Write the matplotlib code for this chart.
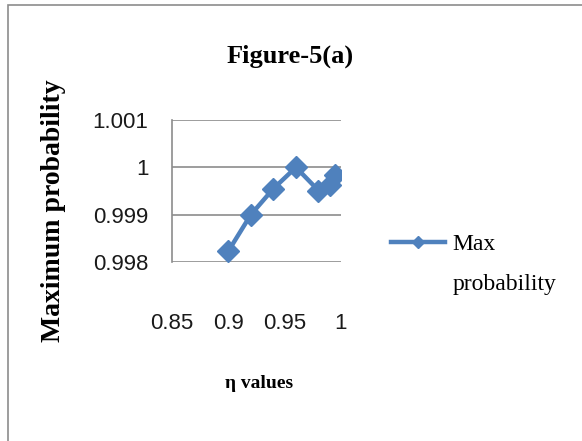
import matplotlib.pyplot as plt
from matplotlib.patches import Rectangle

# data
eta = [0.90, 0.92, 0.94, 0.96, 0.98, 0.99, 0.995]
max_prob = [0.99823, 0.99900, 0.99955, 1.00000, 0.99951, 0.99963, 0.99983]

y_ticks = [0.998, 0.999, 1.0, 1.001]
y_labels = ['0.998', '0.999', '1', '1.001']
x_ticks = [0.85, 0.90, 0.95, 1.0]
x_labels = ['0.85', '0.9', '0.95', '1']

blue = '#4F81BD'
serif = 'Liberation Serif'
sans = 'Liberation Sans'

fig = plt.figure(figsize=(5.82, 4.41), dpi=100)
fig.patches.append(Rectangle((8 / 582, -0.05), 1.1, 1 - 5 / 441 + 0.05,
                             transform=fig.transFigure, fill=False,
                             edgecolor='#8c8c8c', linewidth=1.2))

ax = fig.add_axes([172 / 582, 1 - 262 / 441, 169 / 582, 142 / 441])
ax.plot(eta, max_prob, color=blue, linewidth=3.2, marker='D', markersize=11,
        label='Max\nprobability')

ax.set_xlim(0.85, 1.0)
ax.set_ylim(0.998, 1.001)
ax.set_yticks(y_ticks)
ax.set_yticklabels(y_labels)
ax.set_xticks(x_ticks)
ax.set_xticklabels(x_labels)
ax.grid(axis='y', color='#8c8c8c', linewidth=1.2)
ax.set_axisbelow(True)
for side in ['top', 'right', 'bottom']:
    ax.spines[side].set_visible(False)
ax.spines['left'].set_color('#8c8c8c')
ax.spines['left'].set_linewidth(1.2)
ax.tick_params(length=0)
ax.tick_params(axis='y', pad=17)
ax.tick_params(axis='x', pad=37)
for lab in ax.get_xticklabels() + ax.get_yticklabels():
    lab.set_family(sans)
    lab.set_fontsize(16)
    lab.set_color('#1a1a1a')

fig.text(290 / 582, 1 - 56 / 441, 'Figure-5(a)', family=serif, fontweight='bold',
         fontsize=19, ha='center', va='center')
fig.text(259 / 582, 1 - 383 / 441, 'η values', family=serif, fontweight='bold',
         fontsize=14, ha='center', va='center')
fig.text(53 / 582, 1 - 211 / 441, 'Maximum probability', family=serif,
         fontweight='bold', fontsize=20, rotation=90, ha='center', va='center')

leg = ax.legend(loc='upper left', bbox_to_anchor=(1.17, 0.35), frameon=False,
                prop={'family': serif, 'size': 17}, handlelength=2.3,
                handletextpad=0.3, markerscale=0.6)
for t in leg.get_texts():
    t.set_linespacing(2.2)
# put the handle beside the first line of the label, not its middle
row = leg._legend_handle_box.get_children()[0].get_children()[0]
row.align = 'top'

fig.savefig('out.png', dpi=100)
